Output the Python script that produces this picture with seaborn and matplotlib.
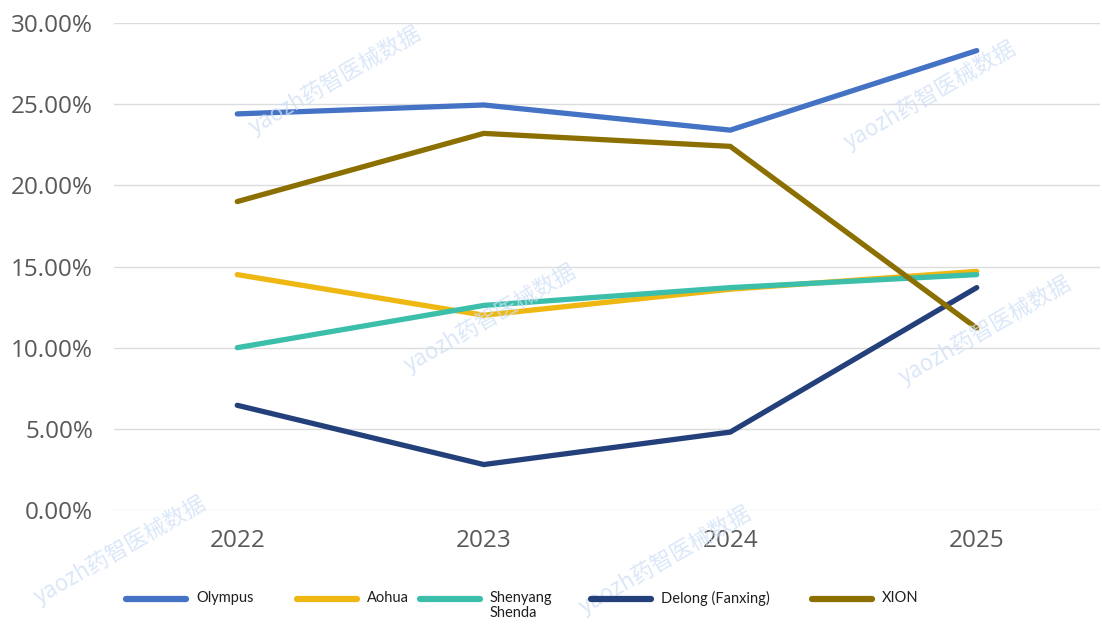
# 内窥镜主要厂商市场份额折线图（2022-2025）

import matplotlib.pyplot as plt
from matplotlib.lines import Line2D
from matplotlib.ticker import PercentFormatter
import pandas as pd
import seaborn as sns


# ======================== データ ========================
YEARS = ["2022", "2023", "2024", "2025"]
COMPANIES = ["Olympus", "Aohua", "Shenyang\nShenda", "Delong (Fanxing)", "XION"]

OLYMPUS = [24.4, 24.95, 23.4, 28.3]
AOHUA = [14.5, 12.0, 13.6, 14.7]
SHENDA = [10.0, 12.6, 13.7, 14.5]
DELONG = [6.45, 2.8, 4.8, 13.7]
XION = [19.0, 23.2, 22.4, 11.2]

COLORS = ["#4472C4", "#EEB711", "#3BBEAA", "#23407A", "#8B6F00"]


def make_long_df() -> pd.DataFrame:
    rows = []
    for name, values in zip(COMPANIES, [OLYMPUS, AOHUA, SHENDA, DELONG, XION]):
        for year, v in zip(YEARS, values):
            rows.append({"year": year, "company": name, "share": v})
    return pd.DataFrame(rows)


# ======================== 描画 ========================
sns.set_theme(style="white")
plt.rcParams["font.family"] = ["Open Sans", "DejaVu Sans"]

df = make_long_df()

W, H = 1102, 628
fig = plt.figure(figsize=(W / 100, H / 100), dpi=100)
ax = fig.add_axes([114 / W, 118 / H, 986 / W, 487 / H])

sns.lineplot(
    data=df,
    x="year",
    y="share",
    hue="company",
    hue_order=COMPANIES,
    palette=dict(zip(COMPANIES, COLORS)),
    sort=False,
    linewidth=3.8,
    legend=False,
    ax=ax,
)
for line in ax.lines:
    line.set_solid_capstyle("round")
    line.set_solid_joinstyle("miter")

ax.set_ylim(0, 30)
ax.set_xlim(-0.5, 3.5)
ax.set_yticks([0, 5, 10, 15, 20, 25, 30])
ax.yaxis.set_major_formatter(PercentFormatter(decimals=2))
ax.grid(axis="y", color="#DCDCDC", linewidth=1)
ax.set_axisbelow(True)
for s in ax.spines.values():
    s.set_visible(False)
ax.tick_params(axis="both", length=0, labelsize=17.5, labelcolor="#595959")
ax.tick_params(axis="y", pad=15)
ax.tick_params(axis="x", pad=14)
ax.set_xlabel("")
ax.set_ylabel("")

# 凡例（各項目の位置を個別に指定）
legend_x = [126, 297, 420, 591, 812]
for x0, name, color in zip(legend_x, COMPANIES, COLORS):
    fig.add_artist(
        Line2D(
            [x0 / W, (x0 + 60) / W],
            [1 - 599 / H, 1 - 599 / H],
            color=color,
            linewidth=4.5,
            solid_capstyle="round",
            transform=fig.transFigure,
        )
    )
    fig.text(
        (x0 + 70) / W,
        1 - 591 / H,
        name,
        ha="left",
        va="top",
        fontsize=10.5,
        color="#1F1F1F",
        linespacing=1.1,
        family=["Lato", "DejaVu Sans"],
    )

# 水印
marks = [(335, 80), (490, 318), (930, 95), (985, 330), (120, 550), (665, 560)]
for x, y in marks:
    fig.text(
        x / W,
        1 - y / H,
        "yaozh药智医械数据",
        rotation=30,
        ha="center",
        va="center",
        fontsize=16,
        color="#CFE0F6",
        alpha=0.75,
        family=["Noto Sans CJK SC", "DejaVu Sans"],
        zorder=0,
    )

fig.savefig("out.png", dpi=100)
